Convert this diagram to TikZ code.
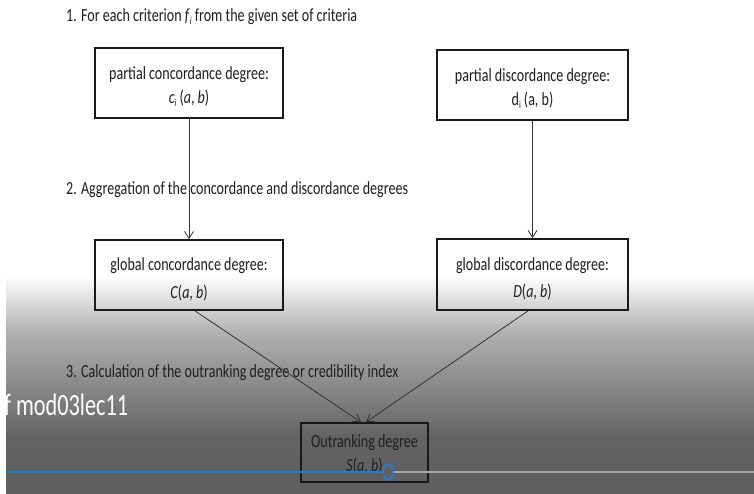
\documentclass[tikz,border=0pt]{standalone}
\usepackage{fontspec}
\setmainfont{Carlito}[FakeStretch=0.76]
\newfontfamily\overlayfont{Carlito}[FakeStretch=0.72]
\usetikzlibrary{arrows.meta,shapes.geometric}
\tikzset{
  box/.style={draw=black!90, line width=1.8pt, align=center, inner sep=0pt,
    font=\fontsize{18.5}{23}\selectfont, text=black!88},
  lbl/.style={anchor=west, inner sep=0pt, font=\fontsize{18.5}{20}\selectfont, text=black!88},
  arr/.style={draw=black!80, line width=0.8pt, -{Straight Barb[length=7pt,width=9pt]}}
}
\newcommand{\subi}[1]{\raisebox{-0.35ex}{\fontsize{10.5}{10.5}\selectfont #1}}
\newcommand{\shiftdown}[2]{\raisebox{-#1}[\height][\depth]{#2}}
\begin{document}
\begin{tikzpicture}[x=1pt,y=-1pt]
\useasboundingbox (0,0) rectangle (754,494);
\fill[white] (0,0) rectangle (754,494);
% video overlay background
\shade[top color=white, bottom color=black!30] (6,276) rectangle (754,331);
\shade[top color=black!30, bottom color=black!61] (6,330) rectangle (754,436);
\shade[top color=black!61, bottom color=black!63] (6,435) rectangle (754,494);

% step labels
\node[lbl] (s1) at (66,17) {1. For each criterion \textit{f}\subi{\textit{i}} from the given set of criteria};
\node[lbl] (s2) at (66,190) {2. Aggregation of the concordance and discordance degrees};
\node[lbl] (s3) at (66,373) {3. Calculation of the outranking degree or credibility index};

% boxes
\node[box, minimum width=188pt, minimum height=70pt] (pc) at (189,83)
  {\shiftdown{3.5pt}{\shortstack{partial concordance degree:\\[5pt]\textit{c}\subi{\textit{i}}\,(\textit{a}, \textit{b})}}};
\node[box, minimum width=191pt, minimum height=70pt] (pd) at (532.5,85)
  {\shiftdown{3.5pt}{\shortstack{partial discordance degree:\\[5pt]d\subi{i}\,(a, b)}}};
\node[box, minimum width=188pt, minimum height=70pt] (gc) at (189,275)
  {\shiftdown{4.5pt}{\shortstack{global concordance degree:\\[8pt]\textit{C}(\textit{a}, \textit{b})}}};
\node[box, minimum width=191pt, minimum height=71pt] (gd) at (532.5,274.5)
  {\shiftdown{4.5pt}{\shortstack{global discordance degree:\\[8pt]\textit{D}(\textit{a}, \textit{b})}}};
\node[box, minimum width=127pt, minimum height=59pt] (out) at (364.5,452.5)
  {\shiftdown{2pt}{\shortstack{Outranking degree\\[4pt]\textit{S}(\textit{a}, \textit{b})}}};

% connectors
\draw[arr] (pc.south) -- (gc.north);
\draw[arr] (pd.south) -- (gd.north);
\draw[arr] ([xshift=6pt]gc.south) -- ([xshift=-3.5pt]out.north);
\draw[arr] ([xshift=-4.5pt]gd.south) -- ([xshift=1.5pt]out.north);

% video player overlay
\node[anchor=base west, inner sep=0pt, text=white, font=\overlayfont\fontsize{31}{31}\selectfont] (ttl) at (4,415) {f mod03lec11};
\coordinate (barstart) at (6,472);
\coordinate (barend) at (754,472);
\node[draw={rgb,255:red,30;green,126;blue,214}, line width=1.6pt, ellipse, minimum width=10pt, minimum height=16pt, inner sep=0pt] (knob) at (388,472) {};
\draw[line width=2pt, draw=black!35] (knob.east) -- (barend);
\draw[line width=2.5pt, draw={rgb,255:red,30;green,126;blue,214}] (barstart) -- (knob.west);
\end{tikzpicture}
\end{document}
